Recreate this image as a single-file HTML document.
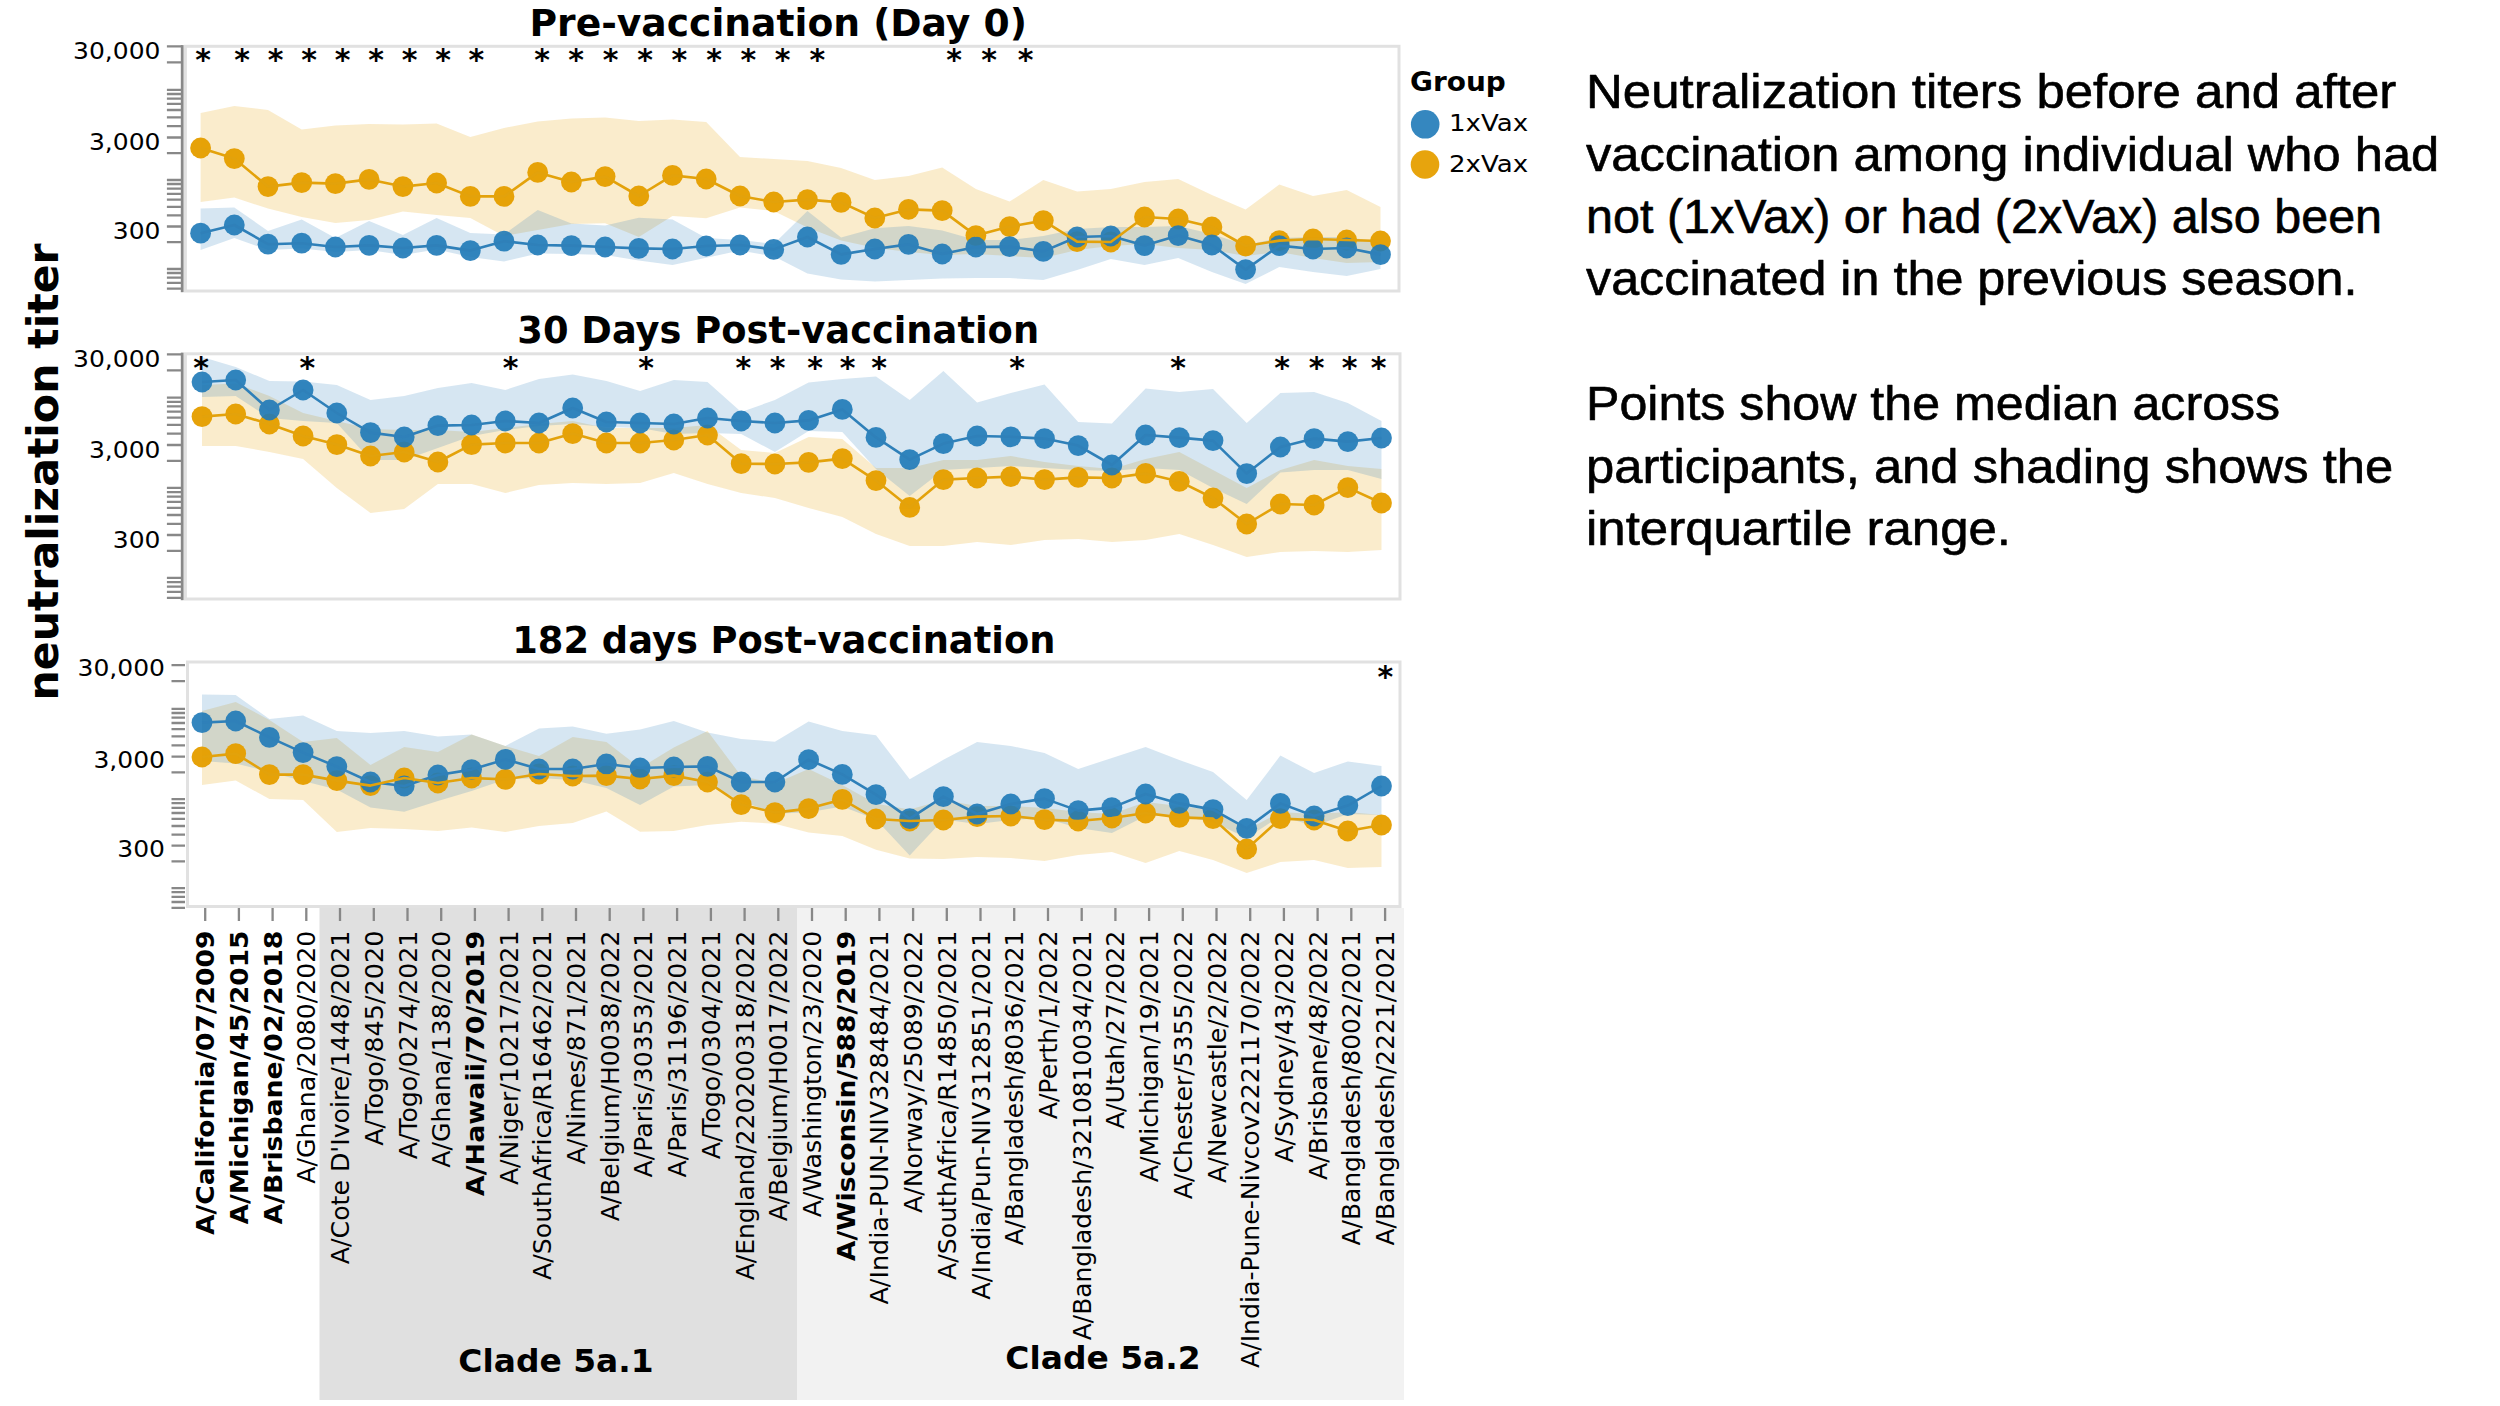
<!DOCTYPE html>
<html lang="en"><head><meta charset="utf-8"><title>Neutralization titers</title>
<style>html,body{margin:0;padding:0;background:#fff;}body{width:2500px;height:1406px;overflow:hidden;position:relative;}svg{position:absolute;left:0;top:0;display:block;}.dj{font-family:'DejaVu Sans', 'Liberation Sans', sans-serif;}.ls{font-family:'Liberation Sans', 'DejaVu Sans', sans-serif;}</style></head><body>
<svg width="2500" height="1406" viewBox="0 0 2500 1406">
<rect width="2500" height="1406" fill="#ffffff"/>
<rect x="319.5" y="908" width="478" height="492" fill="#e0e0e0"/>
<rect x="797" y="908" width="607" height="492" fill="#f2f2f2"/>
<g id="panel1">
<rect x="185.4" y="46.3" width="1213.6" height="244.7" fill="#ffffff" stroke="#e1e1e1" stroke-width="3"/>
<polygon points="200.6,113 234.3,106 268,110 301.7,129.4 335.4,125.6 369.1,124 402.9,124.6 436.6,123.4 470.3,137 504,128 537.7,121.4 571.4,118.6 605.1,117.4 638.8,121 672.5,119.4 706.2,122 740,157 773.7,159 807.4,161 841.1,168 874.8,180 908.5,176 942.2,167.6 975.9,189 1009.6,201.6 1043.3,180 1077.1,191.6 1110.8,189 1144.5,182 1178.2,179 1211.9,195 1245.6,209.4 1279.3,184.6 1313,196 1346.7,190 1380.5,207 1380.5,262 1346.7,263 1313,258 1279.3,252 1245.6,256 1211.9,250 1178.2,248 1144.5,244 1110.8,246 1077.1,250 1043.3,258 1009.6,256 975.9,254 942.2,255 908.5,252 874.8,247.7 841.1,240.5 807.4,227.5 773.7,211 740,207.4 706.2,218.2 672.5,216 638.8,236.9 605.1,223.2 571.4,224 537.7,230 504,236 470.3,218 436.6,215 402.9,211.6 369.1,220 335.4,223 301.7,217 268,208.6 234.3,197.6 200.6,202" fill="#e69f00" fill-opacity="0.2"/>
<polygon points="200.6,208.6 234.3,207.4 268,231 301.7,219.4 335.4,238 369.1,221 402.9,235 436.6,218 470.3,233 504,234.4 537.7,210 571.4,223.6 605.1,225.4 638.8,217.7 672.5,219.6 706.2,238 740,240 773.7,244 807.4,211 841.1,237.6 874.8,228.2 908.5,226 942.2,230.4 975.9,240 1009.6,240 1043.3,236 1077.1,229 1110.8,227 1144.5,227 1178.2,226 1211.9,234 1245.6,245 1279.3,238 1313,237 1346.7,237 1380.5,242 1380.5,269 1346.7,276 1313,272 1279.3,267 1245.6,284 1211.9,272 1178.2,258 1144.5,265 1110.8,259 1077.1,270 1043.3,280 1009.6,278 975.9,278 942.2,278.6 908.5,280 874.8,281.5 841.1,279.4 807.4,273.6 773.7,256.3 740,250.6 706.2,257.8 672.5,265 638.8,260.6 605.1,255 571.4,254 537.7,253.6 504,261.4 470.3,257 436.6,249.4 402.9,255 369.1,250 335.4,252 301.7,248.4 268,250 234.3,238 200.6,250" fill="#3182bd" fill-opacity="0.2"/>
<g fill="#e69f00" opacity="0.96"><circle cx="200.6" cy="148" r="10.4"/><circle cx="234.3" cy="158.6" r="10.4"/><circle cx="268" cy="186.6" r="10.4"/><circle cx="301.7" cy="182.6" r="10.4"/><circle cx="335.4" cy="183.6" r="10.4"/><circle cx="369.1" cy="179.4" r="10.4"/><circle cx="402.9" cy="186.6" r="10.4"/><circle cx="436.6" cy="183" r="10.4"/><circle cx="470.3" cy="196.4" r="10.4"/><circle cx="504" cy="196.4" r="10.4"/><circle cx="537.7" cy="172.4" r="10.4"/><circle cx="571.4" cy="182" r="10.4"/><circle cx="605.1" cy="176.6" r="10.4"/><circle cx="638.8" cy="196" r="10.4"/><circle cx="672.5" cy="175.4" r="10.4"/><circle cx="706.2" cy="179" r="10.4"/><circle cx="740" cy="196" r="10.4"/><circle cx="773.7" cy="202" r="10.4"/><circle cx="807.4" cy="199.6" r="10.4"/><circle cx="841.1" cy="202.4" r="10.4"/><circle cx="874.8" cy="218" r="10.4"/><circle cx="908.5" cy="209.4" r="10.4"/><circle cx="942.2" cy="210.6" r="10.4"/><circle cx="975.9" cy="235.6" r="10.4"/><circle cx="1009.6" cy="226.6" r="10.4"/><circle cx="1043.3" cy="220.6" r="10.4"/><circle cx="1077.1" cy="241.6" r="10.4"/><circle cx="1110.8" cy="242" r="10.4"/><circle cx="1144.5" cy="217" r="10.4"/><circle cx="1178.2" cy="219" r="10.4"/><circle cx="1211.9" cy="227" r="10.4"/><circle cx="1245.6" cy="246" r="10.4"/><circle cx="1279.3" cy="240.6" r="10.4"/><circle cx="1313" cy="239" r="10.4"/><circle cx="1346.7" cy="240" r="10.4"/><circle cx="1380.5" cy="241" r="10.4"/></g>
<g fill="#1f7ab8" opacity="0.9"><circle cx="200.6" cy="233.2" r="10.4"/><circle cx="234.3" cy="225" r="10.4"/><circle cx="268" cy="244.2" r="10.4"/><circle cx="301.7" cy="243.2" r="10.4"/><circle cx="335.4" cy="247" r="10.4"/><circle cx="369.1" cy="245.4" r="10.4"/><circle cx="402.9" cy="248" r="10.4"/><circle cx="436.6" cy="245.4" r="10.4"/><circle cx="470.3" cy="250.6" r="10.4"/><circle cx="504" cy="241.2" r="10.4"/><circle cx="537.7" cy="245" r="10.4"/><circle cx="571.4" cy="245.6" r="10.4"/><circle cx="605.1" cy="247" r="10.4"/><circle cx="638.8" cy="248.4" r="10.4"/><circle cx="672.5" cy="249" r="10.4"/><circle cx="706.2" cy="246" r="10.4"/><circle cx="740" cy="245" r="10.4"/><circle cx="773.7" cy="249.4" r="10.4"/><circle cx="807.4" cy="237" r="10.4"/><circle cx="841.1" cy="254.4" r="10.4"/><circle cx="874.8" cy="249" r="10.4"/><circle cx="908.5" cy="244.4" r="10.4"/><circle cx="942.2" cy="254" r="10.4"/><circle cx="975.9" cy="247" r="10.4"/><circle cx="1009.6" cy="246.6" r="10.4"/><circle cx="1043.3" cy="251.4" r="10.4"/><circle cx="1077.1" cy="237" r="10.4"/><circle cx="1110.8" cy="236" r="10.4"/><circle cx="1144.5" cy="245.6" r="10.4"/><circle cx="1178.2" cy="235.6" r="10.4"/><circle cx="1211.9" cy="245" r="10.4"/><circle cx="1245.6" cy="269.6" r="10.4"/><circle cx="1279.3" cy="245.6" r="10.4"/><circle cx="1313" cy="249" r="10.4"/><circle cx="1346.7" cy="248" r="10.4"/><circle cx="1380.5" cy="254.6" r="10.4"/></g>
<polyline points="200.6,233.2 234.3,225 268,244.2 301.7,243.2 335.4,247 369.1,245.4 402.9,248 436.6,245.4 470.3,250.6 504,241.2 537.7,245 571.4,245.6 605.1,247 638.8,248.4 672.5,249 706.2,246 740,245 773.7,249.4 807.4,237 841.1,254.4 874.8,249 908.5,244.4 942.2,254 975.9,247 1009.6,246.6 1043.3,251.4 1077.1,237 1110.8,236 1144.5,245.6 1178.2,235.6 1211.9,245 1245.6,269.6 1279.3,245.6 1313,249 1346.7,248 1380.5,254.6" fill="none" stroke="#2f80b9" stroke-width="2.6" stroke-linejoin="round"/>
<polyline points="200.6,148 234.3,158.6 268,186.6 301.7,182.6 335.4,183.6 369.1,179.4 402.9,186.6 436.6,183 470.3,196.4 504,196.4 537.7,172.4 571.4,182 605.1,176.6 638.8,196 672.5,175.4 706.2,179 740,196 773.7,202 807.4,199.6 841.1,202.4 874.8,218 908.5,209.4 942.2,210.6 975.9,235.6 1009.6,226.6 1043.3,220.6 1077.1,241.6 1110.8,242 1144.5,217 1178.2,219 1211.9,227 1245.6,246 1279.3,240.6 1313,239 1346.7,240 1380.5,241" fill="none" stroke="#e3a20b" stroke-width="2.6" stroke-linejoin="round"/>
<path d="M166.9 288.7H182.2M166.9 282.8H182.2M166.9 277.6H182.2M166.9 273H182.2M166.9 269H182.2M166.9 242.2H182.2M166.9 226.5H182.2M166.9 215.4H182.2M166.9 206.8H182.2M166.9 199.7H182.2M166.9 193.8H182.2M166.9 188.6H182.2M166.9 184H182.2M166.9 180H182.2M166.9 153.2H182.2M166.9 137.5H182.2M166.9 126.1H182.2M166.9 117.3H182.2M166.9 110H182.2M166.9 103.9H182.2M166.9 98.7H182.2M166.9 94H182.2M166.9 89.8H182.2M166.9 62.4H182.2M166.9 46.3H182.2" stroke="#888888" stroke-width="2.3" fill="none"/>
<path d="M182.2 45.1V292.2" stroke="#888888" stroke-width="2.8" fill="none"/>
<text class="dj" transform="translate(160.5,58.8) scale(1.06,1)" font-size="23.6" text-anchor="end" fill="#000">30,000</text>
<text class="dj" transform="translate(160.5,150) scale(1.06,1)" font-size="23.6" text-anchor="end" fill="#000">3,000</text>
<text class="dj" transform="translate(160.5,239) scale(1.06,1)" font-size="23.6" text-anchor="end" fill="#000">300</text>
<text class="dj" transform="translate(778.2,36) scale(1.023,1)" font-size="36.8" font-weight="bold" text-anchor="middle" fill="#000">Pre-vaccination (Day 0)</text>
<text class="dj" transform="translate(203,70.2)" font-size="30" font-weight="bold" text-anchor="middle" fill="#000">*</text>
<text class="dj" transform="translate(242,70.2)" font-size="30" font-weight="bold" text-anchor="middle" fill="#000">*</text>
<text class="dj" transform="translate(275.6,70.2)" font-size="30" font-weight="bold" text-anchor="middle" fill="#000">*</text>
<text class="dj" transform="translate(309,70.2)" font-size="30" font-weight="bold" text-anchor="middle" fill="#000">*</text>
<text class="dj" transform="translate(342.6,70.2)" font-size="30" font-weight="bold" text-anchor="middle" fill="#000">*</text>
<text class="dj" transform="translate(376,70.2)" font-size="30" font-weight="bold" text-anchor="middle" fill="#000">*</text>
<text class="dj" transform="translate(409.6,70.2)" font-size="30" font-weight="bold" text-anchor="middle" fill="#000">*</text>
<text class="dj" transform="translate(443,70.2)" font-size="30" font-weight="bold" text-anchor="middle" fill="#000">*</text>
<text class="dj" transform="translate(476.4,70.2)" font-size="30" font-weight="bold" text-anchor="middle" fill="#000">*</text>
<text class="dj" transform="translate(542,70.2)" font-size="30" font-weight="bold" text-anchor="middle" fill="#000">*</text>
<text class="dj" transform="translate(576,70.2)" font-size="30" font-weight="bold" text-anchor="middle" fill="#000">*</text>
<text class="dj" transform="translate(610.5,70.2)" font-size="30" font-weight="bold" text-anchor="middle" fill="#000">*</text>
<text class="dj" transform="translate(645,70.2)" font-size="30" font-weight="bold" text-anchor="middle" fill="#000">*</text>
<text class="dj" transform="translate(679.4,70.2)" font-size="30" font-weight="bold" text-anchor="middle" fill="#000">*</text>
<text class="dj" transform="translate(714,70.2)" font-size="30" font-weight="bold" text-anchor="middle" fill="#000">*</text>
<text class="dj" transform="translate(748.4,70.2)" font-size="30" font-weight="bold" text-anchor="middle" fill="#000">*</text>
<text class="dj" transform="translate(782.6,70.2)" font-size="30" font-weight="bold" text-anchor="middle" fill="#000">*</text>
<text class="dj" transform="translate(817.4,70.2)" font-size="30" font-weight="bold" text-anchor="middle" fill="#000">*</text>
<text class="dj" transform="translate(954,70.2)" font-size="30" font-weight="bold" text-anchor="middle" fill="#000">*</text>
<text class="dj" transform="translate(989,70.2)" font-size="30" font-weight="bold" text-anchor="middle" fill="#000">*</text>
<text class="dj" transform="translate(1025.6,70.2)" font-size="30" font-weight="bold" text-anchor="middle" fill="#000">*</text>
</g>
<g id="panel2">
<rect x="185.4" y="353.8" width="1214.6" height="245.2" fill="#ffffff" stroke="#e1e1e1" stroke-width="3"/>
<polygon points="202,385 235.7,383.5 269.4,396 303.1,413 336.8,421 370.5,429 404.2,430 437.9,430 471.6,432 505.3,428 539,424 572.7,421 606.4,428 640.1,428 673.8,428 707.5,425 741.2,450 774.9,453 808.6,437 842.3,439 876,468 909.7,468 943.4,460 977.1,460 1010.8,456 1044.5,462 1078.2,466 1111.9,469 1145.6,459 1179.3,452 1213,470 1246.7,488 1280.4,470 1314.1,460 1347.8,466 1381.5,469 1381.5,550 1347.8,552 1314.1,551 1280.4,552 1246.7,557 1213,545 1179.3,534 1145.6,540 1111.9,542 1078.2,539 1044.5,540 1010.8,545 977.1,542 943.4,546 909.7,546 876,534 842.3,517 808.6,508 774.9,498 741.2,493 707.5,484 673.8,473 640.1,483 606.4,484 572.7,483 539,485 505.3,493 471.6,484 437.9,484 404.2,509 370.5,513 336.8,488 303.1,459 269.4,452 235.7,446 202,446" fill="#e69f00" fill-opacity="0.2"/>
<polygon points="202,357 235.7,367 269.4,381 303.1,381.6 336.8,385 370.5,400 404.2,396 437.9,388 471.6,383 505.3,390 539,379 572.7,374.4 606.4,381 640.1,391 673.8,380 707.5,382 741.2,412 774.9,400 808.6,382.4 842.3,379 876,376.4 909.7,400 943.4,371 977.1,402.4 1010.8,393 1044.5,384.4 1078.2,422 1111.9,423.6 1145.6,388.4 1179.3,392 1213,389 1246.7,423 1280.4,393 1314.1,392 1347.8,403 1381.5,421 1381.5,479 1347.8,470 1314.1,470 1280.4,472.4 1246.7,504 1213,488 1179.3,470 1145.6,468 1111.9,471 1078.2,470 1044.5,468 1010.8,466 977.1,468 943.4,470 909.7,496 876,469 842.3,432 808.6,431 774.9,452 741.2,434 707.5,433 673.8,434 640.1,428 606.4,427 572.7,424 539,426 505.3,430 471.6,436 437.9,448 404.2,460 370.5,460 336.8,423 303.1,421 269.4,418 235.7,396 202,397" fill="#3182bd" fill-opacity="0.2"/>
<g fill="#e69f00" opacity="0.96"><circle cx="202" cy="416.6" r="10.4"/><circle cx="235.7" cy="414" r="10.4"/><circle cx="269.4" cy="424" r="10.4"/><circle cx="303.1" cy="436" r="10.4"/><circle cx="336.8" cy="444.6" r="10.4"/><circle cx="370.5" cy="456" r="10.4"/><circle cx="404.2" cy="452" r="10.4"/><circle cx="437.9" cy="462" r="10.4"/><circle cx="471.6" cy="444.6" r="10.4"/><circle cx="505.3" cy="443" r="10.4"/><circle cx="539" cy="443" r="10.4"/><circle cx="572.7" cy="433.6" r="10.4"/><circle cx="606.4" cy="443" r="10.4"/><circle cx="640.1" cy="443" r="10.4"/><circle cx="673.8" cy="440" r="10.4"/><circle cx="707.5" cy="435" r="10.4"/><circle cx="741.2" cy="463.6" r="10.4"/><circle cx="774.9" cy="464" r="10.4"/><circle cx="808.6" cy="462.4" r="10.4"/><circle cx="842.3" cy="458.6" r="10.4"/><circle cx="876" cy="480.6" r="10.4"/><circle cx="909.7" cy="507.4" r="10.4"/><circle cx="943.4" cy="479.6" r="10.4"/><circle cx="977.1" cy="478" r="10.4"/><circle cx="1010.8" cy="476.6" r="10.4"/><circle cx="1044.5" cy="479.6" r="10.4"/><circle cx="1078.2" cy="477.4" r="10.4"/><circle cx="1111.9" cy="478" r="10.4"/><circle cx="1145.6" cy="473.4" r="10.4"/><circle cx="1179.3" cy="481.4" r="10.4"/><circle cx="1213" cy="498" r="10.4"/><circle cx="1246.7" cy="524" r="10.4"/><circle cx="1280.4" cy="504" r="10.4"/><circle cx="1314.1" cy="505" r="10.4"/><circle cx="1347.8" cy="487.6" r="10.4"/><circle cx="1381.5" cy="503" r="10.4"/></g>
<g fill="#1f7ab8" opacity="0.9"><circle cx="202" cy="382" r="10.4"/><circle cx="235.7" cy="380" r="10.4"/><circle cx="269.4" cy="410" r="10.4"/><circle cx="303.1" cy="390" r="10.4"/><circle cx="336.8" cy="413" r="10.4"/><circle cx="370.5" cy="432.6" r="10.4"/><circle cx="404.2" cy="437" r="10.4"/><circle cx="437.9" cy="425.6" r="10.4"/><circle cx="471.6" cy="425" r="10.4"/><circle cx="505.3" cy="421" r="10.4"/><circle cx="539" cy="423" r="10.4"/><circle cx="572.7" cy="408" r="10.4"/><circle cx="606.4" cy="422" r="10.4"/><circle cx="640.1" cy="423" r="10.4"/><circle cx="673.8" cy="424" r="10.4"/><circle cx="707.5" cy="418" r="10.4"/><circle cx="741.2" cy="421" r="10.4"/><circle cx="774.9" cy="423" r="10.4"/><circle cx="808.6" cy="420.4" r="10.4"/><circle cx="842.3" cy="409.4" r="10.4"/><circle cx="876" cy="437.4" r="10.4"/><circle cx="909.7" cy="459.6" r="10.4"/><circle cx="943.4" cy="443.6" r="10.4"/><circle cx="977.1" cy="436" r="10.4"/><circle cx="1010.8" cy="436.8" r="10.4"/><circle cx="1044.5" cy="438.6" r="10.4"/><circle cx="1078.2" cy="445.6" r="10.4"/><circle cx="1111.9" cy="465" r="10.4"/><circle cx="1145.6" cy="435" r="10.4"/><circle cx="1179.3" cy="437.6" r="10.4"/><circle cx="1213" cy="440.6" r="10.4"/><circle cx="1246.7" cy="473.6" r="10.4"/><circle cx="1280.4" cy="447" r="10.4"/><circle cx="1314.1" cy="438.6" r="10.4"/><circle cx="1347.8" cy="441.6" r="10.4"/><circle cx="1381.5" cy="438" r="10.4"/></g>
<polyline points="202,382 235.7,380 269.4,410 303.1,390 336.8,413 370.5,432.6 404.2,437 437.9,425.6 471.6,425 505.3,421 539,423 572.7,408 606.4,422 640.1,423 673.8,424 707.5,418 741.2,421 774.9,423 808.6,420.4 842.3,409.4 876,437.4 909.7,459.6 943.4,443.6 977.1,436 1010.8,436.8 1044.5,438.6 1078.2,445.6 1111.9,465 1145.6,435 1179.3,437.6 1213,440.6 1246.7,473.6 1280.4,447 1314.1,438.6 1347.8,441.6 1381.5,438" fill="none" stroke="#2f80b9" stroke-width="2.6" stroke-linejoin="round"/>
<polyline points="202,416.6 235.7,414 269.4,424 303.1,436 336.8,444.6 370.5,456 404.2,452 437.9,462 471.6,444.6 505.3,443 539,443 572.7,433.6 606.4,443 640.1,443 673.8,440 707.5,435 741.2,463.6 774.9,464 808.6,462.4 842.3,458.6 876,480.6 909.7,507.4 943.4,479.6 977.1,478 1010.8,476.6 1044.5,479.6 1078.2,477.4 1111.9,478 1145.6,473.4 1179.3,481.4 1213,498 1246.7,524 1280.4,504 1314.1,505 1347.8,487.6 1381.5,503" fill="none" stroke="#e3a20b" stroke-width="2.6" stroke-linejoin="round"/>
<path d="M166.9 597.9H182.2M166.9 591.9H182.2M166.9 586.7H182.2M166.9 582.1H182.2M166.9 577.9H182.2M166.9 550.8H182.2M166.9 535H182.2M166.9 523.8H182.2M166.9 515H182.2M166.9 507.9H182.2M166.9 501.9H182.2M166.9 496.7H182.2M166.9 492.1H182.2M166.9 487.9H182.2M166.9 460.8H182.2M166.9 445H182.2M166.9 433.7H182.2M166.9 424.9H182.2M166.9 417.7H182.2M166.9 411.7H182.2M166.9 406.4H182.2M166.9 401.8H182.2M166.9 397.6H182.2M166.9 370.4H182.2M166.9 354.4H182.2" stroke="#888888" stroke-width="2.3" fill="none"/>
<path d="M182.2 352.6V600.2" stroke="#888888" stroke-width="2.8" fill="none"/>
<text class="dj" transform="translate(160.5,366.9) scale(1.06,1)" font-size="23.6" text-anchor="end" fill="#000">30,000</text>
<text class="dj" transform="translate(160.5,457.5) scale(1.06,1)" font-size="23.6" text-anchor="end" fill="#000">3,000</text>
<text class="dj" transform="translate(160.5,547.5) scale(1.06,1)" font-size="23.6" text-anchor="end" fill="#000">300</text>
<text class="dj" transform="translate(778.2,343.4)" font-size="36.8" font-weight="bold" text-anchor="middle" fill="#000">30 Days Post-vaccination</text>
<text class="dj" transform="translate(201,378.2)" font-size="30" font-weight="bold" text-anchor="middle" fill="#000">*</text>
<text class="dj" transform="translate(307.4,378.2)" font-size="30" font-weight="bold" text-anchor="middle" fill="#000">*</text>
<text class="dj" transform="translate(510.6,378.2)" font-size="30" font-weight="bold" text-anchor="middle" fill="#000">*</text>
<text class="dj" transform="translate(646,378.2)" font-size="30" font-weight="bold" text-anchor="middle" fill="#000">*</text>
<text class="dj" transform="translate(743.4,378.2)" font-size="30" font-weight="bold" text-anchor="middle" fill="#000">*</text>
<text class="dj" transform="translate(777.6,378.2)" font-size="30" font-weight="bold" text-anchor="middle" fill="#000">*</text>
<text class="dj" transform="translate(815,378.2)" font-size="30" font-weight="bold" text-anchor="middle" fill="#000">*</text>
<text class="dj" transform="translate(847.6,378.2)" font-size="30" font-weight="bold" text-anchor="middle" fill="#000">*</text>
<text class="dj" transform="translate(879,378.2)" font-size="30" font-weight="bold" text-anchor="middle" fill="#000">*</text>
<text class="dj" transform="translate(1017,378.2)" font-size="30" font-weight="bold" text-anchor="middle" fill="#000">*</text>
<text class="dj" transform="translate(1178,378.2)" font-size="30" font-weight="bold" text-anchor="middle" fill="#000">*</text>
<text class="dj" transform="translate(1282,378.2)" font-size="30" font-weight="bold" text-anchor="middle" fill="#000">*</text>
<text class="dj" transform="translate(1316.6,378.2)" font-size="30" font-weight="bold" text-anchor="middle" fill="#000">*</text>
<text class="dj" transform="translate(1349.6,378.2)" font-size="30" font-weight="bold" text-anchor="middle" fill="#000">*</text>
<text class="dj" transform="translate(1378.6,378.2)" font-size="30" font-weight="bold" text-anchor="middle" fill="#000">*</text>
</g>
<g id="panel3">
<rect x="187.5" y="662" width="1212.5" height="244.5" fill="#ffffff" stroke="#e1e1e1" stroke-width="3"/>
<polygon points="202,711 235.7,702 269.4,720 303.1,742 336.8,738 370.5,765 404.2,747 437.9,752 471.6,734.4 505.3,746 539,756 572.7,737 606.4,742 640.1,768 673.8,747.5 707.5,731 741.2,776 774.9,783.5 808.6,769 842.3,785 876,803.7 909.7,809.4 943.4,800 977.1,806 1010.8,806 1044.5,808 1078.2,812 1111.9,814 1145.6,802 1179.3,806 1213,810 1246.7,830 1280.4,812 1314.1,814 1347.8,812 1381.5,815 1381.5,867 1347.8,868 1314.1,860 1280.4,862 1246.7,873 1213,860 1179.3,851 1145.6,863 1111.9,852 1078.2,855 1044.5,861 1010.8,858 977.1,857 943.4,859 909.7,858.4 876,849.8 842.3,836 808.6,832.5 774.9,823.8 741.2,821.7 707.5,825 673.8,831 640.1,831.8 606.4,811.5 572.7,823 539,826 505.3,832 471.6,827.5 437.9,831 404.2,829 370.5,828 336.8,832 303.1,800 269.4,799 235.7,780.5 202,785" fill="#e69f00" fill-opacity="0.2"/>
<polygon points="202,694.4 235.7,695 269.4,719 303.1,715.6 336.8,731 370.5,733 404.2,731 437.9,736.6 471.6,734.4 505.3,746 539,728.6 572.7,726.4 606.4,733.8 640.1,729.5 673.8,720.9 707.5,732.4 741.2,738.9 774.9,741.8 808.6,721.6 842.3,731 876,735.3 909.7,779.2 943.4,759.8 977.1,742 1010.8,746 1044.5,753 1078.2,769 1111.9,758 1145.6,747 1179.3,760 1213,772 1246.7,800 1280.4,755.6 1314.1,773 1347.8,761.4 1381.5,766 1381.5,815 1347.8,814 1314.1,826 1280.4,816 1246.7,838 1213,822 1179.3,816 1145.6,816 1111.9,833 1078.2,828 1044.5,818 1010.8,820 977.1,824 943.4,819.5 909.7,855.5 876,819.5 842.3,806.6 808.6,812.3 774.9,813.8 741.2,800.8 707.5,785 673.8,786.4 640.1,805 606.4,788 572.7,780 539,778 505.3,779.4 471.6,791 437.9,801 404.2,811.8 370.5,807.4 336.8,789.4 303.1,781 269.4,772 235.7,763.5 202,761" fill="#3182bd" fill-opacity="0.2"/>
<g fill="#e69f00" opacity="0.96"><circle cx="202" cy="757" r="10.4"/><circle cx="235.7" cy="753.6" r="10.4"/><circle cx="269.4" cy="774.6" r="10.4"/><circle cx="303.1" cy="774.6" r="10.4"/><circle cx="336.8" cy="780.6" r="10.4"/><circle cx="370.5" cy="785.6" r="10.4"/><circle cx="404.2" cy="778" r="10.4"/><circle cx="437.9" cy="783" r="10.4"/><circle cx="471.6" cy="778" r="10.4"/><circle cx="505.3" cy="779.4" r="10.4"/><circle cx="539" cy="774" r="10.4"/><circle cx="572.7" cy="776" r="10.4"/><circle cx="606.4" cy="775.6" r="10.4"/><circle cx="640.1" cy="779" r="10.4"/><circle cx="673.8" cy="775.6" r="10.4"/><circle cx="707.5" cy="782" r="10.4"/><circle cx="741.2" cy="804.6" r="10.4"/><circle cx="774.9" cy="812.6" r="10.4"/><circle cx="808.6" cy="808.6" r="10.4"/><circle cx="842.3" cy="799.4" r="10.4"/><circle cx="876" cy="819" r="10.4"/><circle cx="909.7" cy="821" r="10.4"/><circle cx="943.4" cy="820" r="10.4"/><circle cx="977.1" cy="816.6" r="10.4"/><circle cx="1010.8" cy="816" r="10.4"/><circle cx="1044.5" cy="819.6" r="10.4"/><circle cx="1078.2" cy="821" r="10.4"/><circle cx="1111.9" cy="818" r="10.4"/><circle cx="1145.6" cy="813" r="10.4"/><circle cx="1179.3" cy="817.4" r="10.4"/><circle cx="1213" cy="818.6" r="10.4"/><circle cx="1246.7" cy="849" r="10.4"/><circle cx="1280.4" cy="818.6" r="10.4"/><circle cx="1314.1" cy="820" r="10.4"/><circle cx="1347.8" cy="831" r="10.4"/><circle cx="1381.5" cy="825" r="10.4"/></g>
<g fill="#1f7ab8" opacity="0.9"><circle cx="202" cy="722.6" r="10.4"/><circle cx="235.7" cy="721" r="10.4"/><circle cx="269.4" cy="737.4" r="10.4"/><circle cx="303.1" cy="752.6" r="10.4"/><circle cx="336.8" cy="766.6" r="10.4"/><circle cx="370.5" cy="782" r="10.4"/><circle cx="404.2" cy="786" r="10.4"/><circle cx="437.9" cy="775" r="10.4"/><circle cx="471.6" cy="769.6" r="10.4"/><circle cx="505.3" cy="759.4" r="10.4"/><circle cx="539" cy="769" r="10.4"/><circle cx="572.7" cy="769" r="10.4"/><circle cx="606.4" cy="764" r="10.4"/><circle cx="640.1" cy="768" r="10.4"/><circle cx="673.8" cy="767" r="10.4"/><circle cx="707.5" cy="766.4" r="10.4"/><circle cx="741.2" cy="782" r="10.4"/><circle cx="774.9" cy="782" r="10.4"/><circle cx="808.6" cy="759.6" r="10.4"/><circle cx="842.3" cy="774.4" r="10.4"/><circle cx="876" cy="794.6" r="10.4"/><circle cx="909.7" cy="818.6" r="10.4"/><circle cx="943.4" cy="796.6" r="10.4"/><circle cx="977.1" cy="814" r="10.4"/><circle cx="1010.8" cy="804" r="10.4"/><circle cx="1044.5" cy="798.6" r="10.4"/><circle cx="1078.2" cy="810.6" r="10.4"/><circle cx="1111.9" cy="807.6" r="10.4"/><circle cx="1145.6" cy="794" r="10.4"/><circle cx="1179.3" cy="803.4" r="10.4"/><circle cx="1213" cy="809.6" r="10.4"/><circle cx="1246.7" cy="828.4" r="10.4"/><circle cx="1280.4" cy="803.4" r="10.4"/><circle cx="1314.1" cy="816" r="10.4"/><circle cx="1347.8" cy="805.6" r="10.4"/><circle cx="1381.5" cy="786" r="10.4"/></g>
<polyline points="202,722.6 235.7,721 269.4,737.4 303.1,752.6 336.8,766.6 370.5,782 404.2,786 437.9,775 471.6,769.6 505.3,759.4 539,769 572.7,769 606.4,764 640.1,768 673.8,767 707.5,766.4 741.2,782 774.9,782 808.6,759.6 842.3,774.4 876,794.6 909.7,818.6 943.4,796.6 977.1,814 1010.8,804 1044.5,798.6 1078.2,810.6 1111.9,807.6 1145.6,794 1179.3,803.4 1213,809.6 1246.7,828.4 1280.4,803.4 1314.1,816 1347.8,805.6 1381.5,786" fill="none" stroke="#2f80b9" stroke-width="2.6" stroke-linejoin="round"/>
<polyline points="202,757 235.7,753.6 269.4,774.6 303.1,774.6 336.8,780.6 370.5,785.6 404.2,778 437.9,783 471.6,778 505.3,779.4 539,774 572.7,776 606.4,775.6 640.1,779 673.8,775.6 707.5,782 741.2,804.6 774.9,812.6 808.6,808.6 842.3,799.4 876,819 909.7,821 943.4,820 977.1,816.6 1010.8,816 1044.5,819.6 1078.2,821 1111.9,818 1145.6,813 1179.3,817.4 1213,818.6 1246.7,849 1280.4,818.6 1314.1,820 1347.8,831 1381.5,825" fill="none" stroke="#e3a20b" stroke-width="2.6" stroke-linejoin="round"/>
<path d="M171.5 907.9H185M171.5 902H185M171.5 896.8H185M171.5 892.2H185M171.5 888.2H185M171.5 861.4H185M171.5 845.7H185M171.5 834.6H185M171.5 826H185M171.5 818.9H185M171.5 813H185M171.5 807.8H185M171.5 803.2H185M171.5 799.2H185M171.5 772.4H185M171.5 756.7H185M171.5 745.3H185M171.5 736.4H185M171.5 729.1H185M171.5 723H185M171.5 717.7H185M171.5 713H185M171.5 708.8H185M171.5 681.2H185M171.5 665.1H185" stroke="#888888" stroke-width="2.3" fill="none"/>
<text class="dj" transform="translate(165,676.1) scale(1.06,1)" font-size="23.6" text-anchor="end" fill="#000">30,000</text>
<text class="dj" transform="translate(165,767.7) scale(1.06,1)" font-size="23.6" text-anchor="end" fill="#000">3,000</text>
<text class="dj" transform="translate(165,856.7) scale(1.06,1)" font-size="23.6" text-anchor="end" fill="#000">300</text>
<text class="dj" transform="translate(783.8,653.4)" font-size="36.8" font-weight="bold" text-anchor="middle" fill="#000">182 days Post-vaccination</text>
<text class="dj" transform="translate(1385.4,687)" font-size="30" font-weight="bold" text-anchor="middle" fill="#000">*</text>
</g>
<path d="M205.2 908V921M238.9 908V921M272.6 908V921M306.3 908V921M340 908V921M373.8 908V921M407.5 908V921M441.2 908V921M474.9 908V921M508.6 908V921M542.3 908V921M576 908V921M609.7 908V921M643.4 908V921M677.1 908V921M710.9 908V921M744.6 908V921M778.3 908V921M812 908V921M845.7 908V921M879.4 908V921M913.1 908V921M946.8 908V921M980.5 908V921M1014.2 908V921M1048 908V921M1081.7 908V921M1115.4 908V921M1149.1 908V921M1182.8 908V921M1216.5 908V921M1250.2 908V921M1283.9 908V921M1317.6 908V921M1351.3 908V921M1385.1 908V921" stroke="#888888" stroke-width="2.3" fill="none"/>
<text class="dj" transform="translate(214.4,930.6) rotate(-90) scale(1.0521,1)" font-size="25.2" font-weight="bold" text-anchor="end" fill="#000">A/California/07/2009</text>
<text class="dj" transform="translate(248.1,930.6) rotate(-90) scale(1.0479,1)" font-size="25.2" font-weight="bold" text-anchor="end" fill="#000">A/Michigan/45/2015</text>
<text class="dj" transform="translate(281.8,930.6) rotate(-90) scale(1.0584,1)" font-size="25.2" font-weight="bold" text-anchor="end" fill="#000">A/Brisbane/02/2018</text>
<text class="dj" transform="translate(315.3,930.6) rotate(-90) scale(1.012,1)" font-size="24.9" text-anchor="end" fill="#000">A/Ghana/2080/2020</text>
<text class="dj" transform="translate(349,930.6) rotate(-90) scale(1.012,1)" font-size="24.9" text-anchor="end" fill="#000">A/Cote D&#39;Ivoire/1448/2021</text>
<text class="dj" transform="translate(382.8,930.6) rotate(-90) scale(1.0237,1)" font-size="24.9" text-anchor="end" fill="#000">A/Togo/845/2020</text>
<text class="dj" transform="translate(416.5,930.6) rotate(-90) scale(1.012,1)" font-size="24.9" text-anchor="end" fill="#000">A/Togo/0274/2021</text>
<text class="dj" transform="translate(450.2,930.6) rotate(-90) scale(1.012,1)" font-size="24.9" text-anchor="end" fill="#000">A/Ghana/138/2020</text>
<text class="dj" transform="translate(484.1,930.6) rotate(-90) scale(1.0711,1)" font-size="25.2" font-weight="bold" text-anchor="end" fill="#000">A/Hawaii/70/2019</text>
<text class="dj" transform="translate(517.6,930.6) rotate(-90) scale(1.012,1)" font-size="24.9" text-anchor="end" fill="#000">A/Niger/10217/2021</text>
<text class="dj" transform="translate(551.3,930.6) rotate(-90) scale(1.012,1)" font-size="24.9" text-anchor="end" fill="#000">A/SouthAfrica/R16462/2021</text>
<text class="dj" transform="translate(585,930.6) rotate(-90) scale(1.012,1)" font-size="24.9" text-anchor="end" fill="#000">A/Nimes/871/2021</text>
<text class="dj" transform="translate(618.7,930.6) rotate(-90) scale(1.0035,1)" font-size="24.9" text-anchor="end" fill="#000">A/Belgium/H0038/2022</text>
<text class="dj" transform="translate(652.4,930.6) rotate(-90) scale(1.012,1)" font-size="24.9" text-anchor="end" fill="#000">A/Paris/30353/2021</text>
<text class="dj" transform="translate(686.1,930.6) rotate(-90) scale(1.012,1)" font-size="24.9" text-anchor="end" fill="#000">A/Paris/31196/2021</text>
<text class="dj" transform="translate(719.9,930.6) rotate(-90) scale(1.012,1)" font-size="24.9" text-anchor="end" fill="#000">A/Togo/0304/2021</text>
<text class="dj" transform="translate(753.6,930.6) rotate(-90) scale(1.0015,1)" font-size="24.9" text-anchor="end" fill="#000">A/England/220200318/2022</text>
<text class="dj" transform="translate(787.3,930.6) rotate(-90) scale(1.0035,1)" font-size="24.9" text-anchor="end" fill="#000">A/Belgium/H0017/2022</text>
<text class="dj" transform="translate(821,930.6) rotate(-90) scale(1.012,1)" font-size="24.9" text-anchor="end" fill="#000">A/Washington/23/2020</text>
<text class="dj" transform="translate(854.9,930.6) rotate(-90) scale(1.0563,1)" font-size="25.2" font-weight="bold" text-anchor="end" fill="#000">A/Wisconsin/588/2019</text>
<text class="dj" transform="translate(888.4,930.6) rotate(-90) scale(1.0221,1)" font-size="24.9" text-anchor="end" fill="#000">A/India-PUN-NIV328484/2021</text>
<text class="dj" transform="translate(922.1,930.6) rotate(-90) scale(1.012,1)" font-size="24.9" text-anchor="end" fill="#000">A/Norway/25089/2022</text>
<text class="dj" transform="translate(955.8,930.6) rotate(-90) scale(1.012,1)" font-size="24.9" text-anchor="end" fill="#000">A/SouthAfrica/R14850/2021</text>
<text class="dj" transform="translate(989.5,930.6) rotate(-90) scale(1.0257,1)" font-size="24.9" text-anchor="end" fill="#000">A/India/Pun-NIV312851/2021</text>
<text class="dj" transform="translate(1023.2,930.6) rotate(-90) scale(1.0004,1)" font-size="24.9" text-anchor="end" fill="#000">A/Bangladesh/8036/2021</text>
<text class="dj" transform="translate(1057,930.6) rotate(-90) scale(1.012,1)" font-size="24.9" text-anchor="end" fill="#000">A/Perth/1/2022</text>
<text class="dj" transform="translate(1090.7,930.6) rotate(-90) scale(0.9999,1)" font-size="24.9" text-anchor="end" fill="#000">A/Bangladesh/3210810034/2021</text>
<text class="dj" transform="translate(1124.4,930.6) rotate(-90) scale(1.012,1)" font-size="24.9" text-anchor="end" fill="#000">A/Utah/27/2022</text>
<text class="dj" transform="translate(1158.1,930.6) rotate(-90) scale(1.012,1)" font-size="24.9" text-anchor="end" fill="#000">A/Michigan/19/2021</text>
<text class="dj" transform="translate(1191.8,930.6) rotate(-90) scale(1.012,1)" font-size="24.9" text-anchor="end" fill="#000">A/Chester/5355/2022</text>
<text class="dj" transform="translate(1225.5,930.6) rotate(-90) scale(1.012,1)" font-size="24.9" text-anchor="end" fill="#000">A/Newcastle/2/2022</text>
<text class="dj" transform="translate(1259.2,930.6) rotate(-90) scale(1.012,1)" font-size="24.9" text-anchor="end" fill="#000">A/India-Pune-Nivcov2221170/2022</text>
<text class="dj" transform="translate(1292.9,930.6) rotate(-90) scale(1.012,1)" font-size="24.9" text-anchor="end" fill="#000">A/Sydney/43/2022</text>
<text class="dj" transform="translate(1326.6,930.6) rotate(-90) scale(1.012,1)" font-size="24.9" text-anchor="end" fill="#000">A/Brisbane/48/2022</text>
<text class="dj" transform="translate(1360.3,930.6) rotate(-90) scale(1.0004,1)" font-size="24.9" text-anchor="end" fill="#000">A/Bangladesh/8002/2021</text>
<text class="dj" transform="translate(1394.1,930.6) rotate(-90) scale(1.0004,1)" font-size="24.9" text-anchor="end" fill="#000">A/Bangladesh/2221/2021</text>
<text class="dj" transform="translate(556,1372) scale(1.012,1)" font-size="32.5" font-weight="bold" text-anchor="middle" fill="#000">Clade 5a.1</text>
<text class="dj" transform="translate(1103,1368.8) scale(1.012,1)" font-size="32.5" font-weight="bold" text-anchor="middle" fill="#000">Clade 5a.2</text>
<text class="dj" transform="translate(57.5,472) rotate(-90) scale(1.015,1)" font-size="42" font-weight="bold" text-anchor="middle" fill="#000">neutralization titer</text>
<text class="dj" transform="translate(1410,90.5) scale(1.02,1)" font-size="27.4" font-weight="bold" fill="#000">Group</text>
<circle cx="1425.2" cy="124.3" r="14.3" fill="#1f7ab8" fill-opacity="0.9"/>
<circle cx="1425" cy="164.5" r="14.3" fill="#e69f00" fill-opacity="0.95"/>
<text class="dj" transform="translate(1449,131.3) scale(1.1,1)" font-size="23.7" fill="#000">1xVax</text>
<text class="dj" transform="translate(1449,172) scale(1.1,1)" font-size="23.7" fill="#000">2xVax</text>
<g class="ls" font-size="47.5" fill="#000" stroke="#000" stroke-width="0.6" stroke-linejoin="round">
<text x="1586" y="108.2" textLength="810.3" lengthAdjust="spacingAndGlyphs">Neutralization titers before and after</text>
<text x="1586" y="170.6" textLength="853.3" lengthAdjust="spacingAndGlyphs">vaccination among individual who had</text>
<text x="1586" y="233" textLength="796.1" lengthAdjust="spacingAndGlyphs">not (1xVax) or had (2xVax) also been</text>
<text x="1586" y="295.4" textLength="771.5" lengthAdjust="spacingAndGlyphs">vaccinated in the previous season.</text>
<text x="1586" y="420.4" textLength="694.2" lengthAdjust="spacingAndGlyphs">Points show the median across</text>
<text x="1586" y="482.8" textLength="807.3" lengthAdjust="spacingAndGlyphs">participants, and shading shows the</text>
<text x="1586" y="545.2" textLength="425.0" lengthAdjust="spacingAndGlyphs">interquartile range.</text>
</g>
</svg></body></html>
